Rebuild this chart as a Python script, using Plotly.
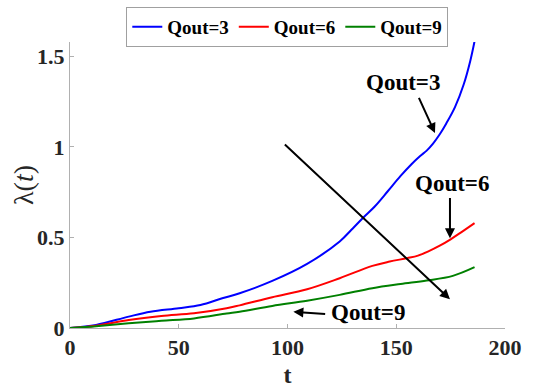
import plotly.graph_objects as go

t_blue = [0, 12, 27, 37, 50, 60, 70, 78, 93, 109, 124, 130, 135, 140, 146, 152, 157, 161, 164, 167, 170, 173, 177, 181, 184, 186]
blue = [0, 0.017, 0.063, 0.09, 0.109, 0.127, 0.164, 0.192, 0.26, 0.354, 0.478, 0.55, 0.612, 0.67, 0.754, 0.84, 0.905, 0.95, 0.98, 1.02, 1.07, 1.13, 1.22, 1.345, 1.474, 1.584]

t_red = [0, 12, 27, 42, 57, 72, 78, 93, 109, 124, 139, 147, 155, 160, 165, 170, 175, 180, 186]
red = [0, 0.013, 0.044, 0.066, 0.081, 0.109, 0.125, 0.17, 0.214, 0.275, 0.343, 0.367, 0.386, 0.40, 0.425, 0.455, 0.49, 0.53, 0.579]

t_green = [0, 12, 27, 42, 57, 72, 78, 93, 109, 124, 139, 152, 164, 176, 186]
green = [0, 0.01, 0.026, 0.04, 0.053, 0.08, 0.09, 0.122, 0.151, 0.183, 0.22, 0.243, 0.262, 0.288, 0.336]

names = ["<b>Qout=3</b>", "<b>Qout=6</b>", "<b>Qout=9</b>"]
colors = ["#0000ff", "#ff0000", "#008000"]

x_ticks = [0, 50, 100, 150, 200]
x_tick_labels = ["<b>0</b>", "<b>50</b>", "<b>100</b>", "<b>150</b>", "<b>200</b>"]
y_ticks = [0, 0.5, 1, 1.5]
y_tick_labels = ["<b>0</b>", "<b>0.5</b>", "<b>1</b>", "<b>1.5</b>"]

FONT = "Liberation Serif"

fig = go.Figure()
for tt, vv, nm, c in zip([t_blue, t_red, t_green], [blue, red, green], names, colors):
    fig.add_trace(go.Scatter(x=tt, y=vv, mode="lines", name=nm,
                             line=dict(color=c, width=2, shape="spline", smoothing=1.0)))

arrow_kw = dict(showarrow=True, arrowhead=2, arrowsize=1, arrowwidth=2, arrowcolor="black",
                axref="x", ayref="y", text="")
fig.add_annotation(x=174.7, y=0.159, ax=98.1, ay=1.022, **arrow_kw)
fig.add_annotation(x=167.8, y=1.077, ax=160.1, ay=1.28, **arrow_kw)
fig.add_annotation(x=174.7, y=0.496, ax=174.7, ay=0.727, **arrow_kw)
fig.add_annotation(x=102.7, y=0.09, ax=118, ay=0.077, **arrow_kw)

lab_font = dict(family=FONT, size=23, color="black")
for (tx, ty, txt) in [(153.2, 1.354, "<b>Qout=3</b>"), (175.5, 0.80, "<b>Qout=6</b>"), (137, 0.085, "<b>Qout=9</b>")]:
    fig.add_annotation(x=tx, y=ty, text=txt, showarrow=False, font=lab_font,
                       xanchor="center", yanchor="middle")

# y-axis title as rotated text
fig.add_annotation(xref="paper", yref="paper", x=-0.108, y=0.5, text="λ(<i>t</i>)",
                   showarrow=False, textangle=-90, xanchor="center", yanchor="middle",
                   font=dict(family=FONT, size=28, color="#262626"))

fig.update_layout(
    width=538, height=389,
    margin=dict(l=70, r=33, t=42, b=61, autoexpand=False),
    paper_bgcolor="white", plot_bgcolor="white",
    font=dict(family=FONT, color="#262626"),
    legend=dict(orientation="h", xref="container", yref="container",
                x=0.534, xanchor="center", y=0.982, yanchor="top",
                bordercolor="#a0a0a0", borderwidth=1, bgcolor="white",
                font=dict(family=FONT, size=19, color="black"),
                itemwidth=30, tracegroupgap=0),
    xaxis=dict(range=[0, 200], tickvals=x_ticks, ticktext=x_tick_labels, ticks="inside", ticklen=4,
               tickcolor="#b0b0b0", automargin=False,
               showline=True, linecolor="#b0b0b0", linewidth=1, showgrid=False, zeroline=False,
               tickfont=dict(family=FONT, size=22, color="#262626"),
               title=dict(text="<b>t</b>", font=dict(family=FONT, size=24, color="#262626"), standoff=6)),
    yaxis=dict(range=[0, 1.58], tickvals=y_ticks, ticktext=y_tick_labels, ticks="inside", ticklen=4,
               tickcolor="#b0b0b0", showline=True, linecolor="#b0b0b0", linewidth=1, automargin=False,
               showgrid=False, zeroline=False,
               tickfont=dict(family=FONT, size=22, color="#262626")),
)

fig.write_html("out.html")
